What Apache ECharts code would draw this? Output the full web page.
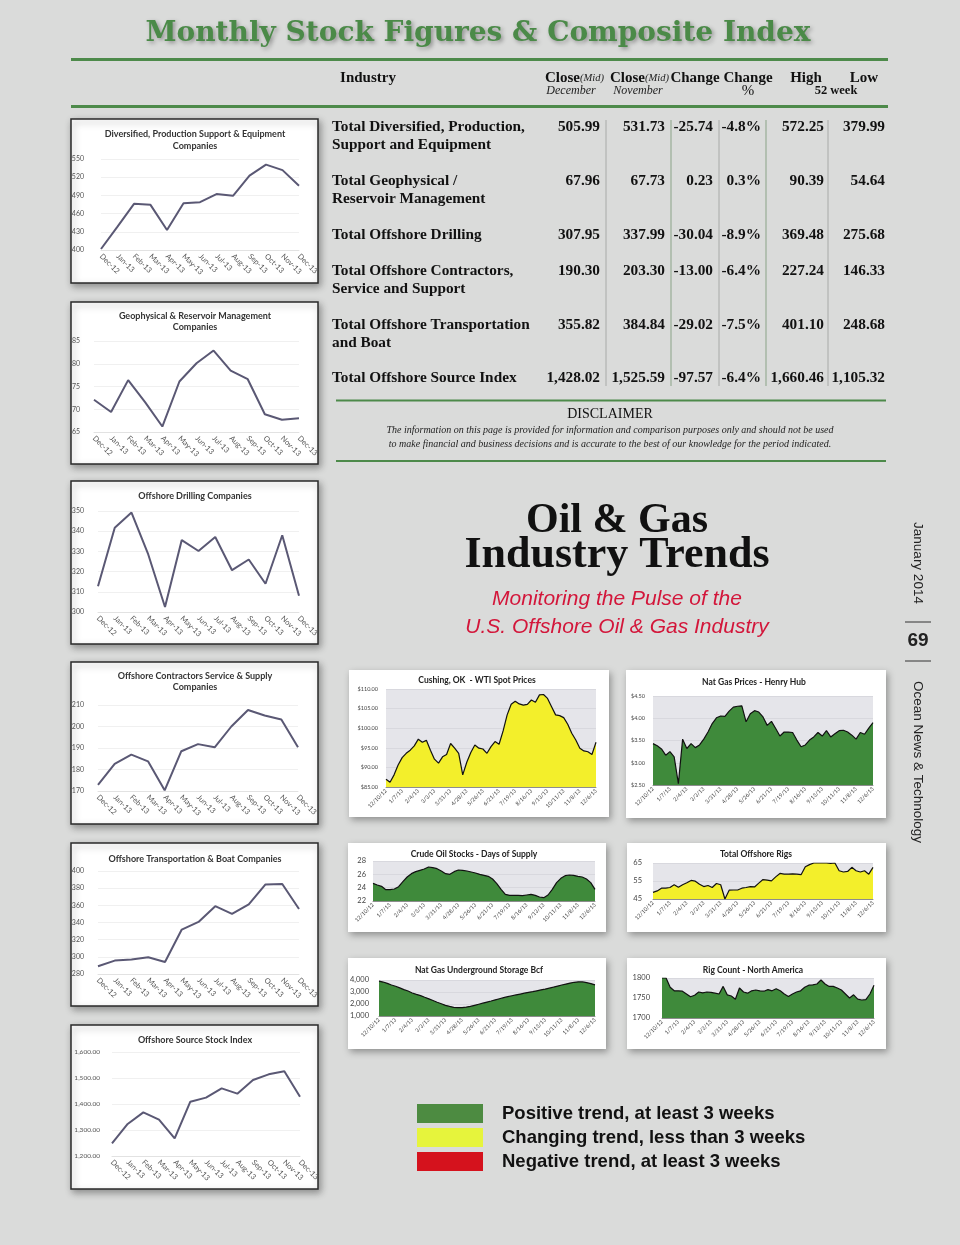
<!DOCTYPE html>
<html><head><meta charset="utf-8">
<script src="https://cdn.jsdelivr.net/npm/echarts/dist/echarts.min.js"></script>
<style>html,body{margin:0;padding:0;background:#dadbda;}#c{width:960px;height:1245px;}</style>
</head><body><div id="c"></div>
<script>
// ---------- DATA ----------
const months = ['Dec-12','Jan-13','Feb-13','Mar-13','Apr-13','May-13','Jun-13','Jul-13','Aug-13','Sep-13','Oct-13','Nov-13','Dec-13'];
const diversified = [401.7,438.6,476.1,474.4,433.0,477.2,478.9,492.2,489.4,522.5,540.7,531.7,506.0];
const geophysical = [72.1,69.4,76.4,71.5,66.2,76.1,80.1,82.9,78.5,76.6,68.9,67.7,68.0];
const drilling = [312.7,341.7,349.2,328.5,302.5,335.6,330.2,337.1,320.7,326.0,314.0,338.0,308.0];
const contractors = [172.8,182.6,186.9,183.8,170.3,188.5,191.8,190.3,200.0,207.7,205.1,203.3,190.3];
const transport = [289.0,295.6,296.8,299.5,294.0,331.8,340.7,359.0,350.1,361.0,384.4,384.8,355.8];
const sourceIndex = [1248.7,1323.1,1367.9,1339.7,1267.9,1408.9,1424.4,1460.3,1439.7,1492.3,1514.1,1525.6,1428.0];

const weekTicks = ['12/10/12','1/7/13','2/4/13','3/3/13','3/31/13','4/28/13','5/26/13','6/21/13','7/19/13','8/16/13','9/13/13','10/11/13','11/8/13','12/6/13'];
const wti = [87.0,86.2,88.1,90.6,92.5,93.6,94.4,95.5,97.2,96.4,96.9,94.4,92.1,91.1,92.7,93.3,96.1,94.9,93.6,88.1,91.3,93.8,95.7,94.9,94.7,93.6,95.3,96.6,95.9,99.3,103.4,106.1,106.9,106.2,105.9,106.1,107.2,106.6,108.5,108.6,107.6,105.5,103.4,103.2,102.7,101.0,98.7,97.0,94.9,94.2,94.0,93.3,96.4];
const henryHub = [3.43,3.38,3.31,3.17,3.25,3.13,2.53,3.53,3.32,3.43,3.34,3.40,3.53,3.69,3.88,4.01,4.05,4.04,4.16,4.25,4.27,4.28,3.92,4.10,4.17,4.14,4.03,3.84,3.93,3.77,3.60,3.69,3.69,3.68,3.51,3.36,3.40,3.51,3.58,3.68,3.60,3.72,3.58,3.65,3.72,3.73,3.69,3.62,3.53,3.68,3.64,3.78,3.90];
const crudeDays = [24.65,24.4,24.2,23.7,23.7,23.8,24.15,24.9,25.6,26.1,26.4,26.6,26.8,27.1,27.0,26.85,26.5,26.1,26.0,26.4,26.65,26.6,26.5,26.35,26.2,26.0,25.85,25.7,25.3,24.6,23.75,23.0,22.85,22.85,22.85,22.8,22.9,23.0,22.85,22.6,22.5,22.9,23.75,24.75,25.4,25.8,25.9,25.85,25.7,25.6,25.3,24.75,23.75];
const offshoreRigs = [48.7,49.5,51.0,51.0,51.4,52.9,51.5,52.9,54.0,55.3,54.9,53.2,51.9,52.5,51.4,53.6,52.9,45.0,49.9,50.0,50.0,51.0,51.4,51.9,51.7,53.8,55.8,55.5,55.1,57.3,59.2,58.8,58.8,59.0,58.8,58.5,62.9,64.1,65.0,65.0,65.0,65.0,64.8,65.0,60.7,60.0,60.3,62.6,60.7,60.0,60.7,58.8,62.6];
const gasStorage = [3900,3830,3720,3580,3480,3340,3200,3080,2920,2800,2700,2560,2430,2290,2150,2020,1890,1800,1720,1690,1700,1740,1800,1890,1980,2070,2160,2250,2350,2440,2530,2610,2690,2760,2830,2900,2970,3030,3100,3170,3240,3320,3400,3490,3580,3660,3740,3810,3850,3840,3780,3700,3600];
const rigCountNA = [1800,1800,1777,1768,1768,1767,1760,1753,1757,1765,1763,1765,1764,1762,1760,1779,1758,1755,1747,1775,1765,1762,1768,1770,1768,1767,1771,1768,1773,1768,1760,1754,1760,1765,1768,1777,1782,1783,1785,1795,1785,1779,1779,1775,1770,1760,1750,1758,1747,1745,1746,1760,1782];

const tableNames = [['Total Diversified, Production,','Support and Equipment'],['Total Geophysical /','Reservoir Management'],['Total Offshore Drilling'],['Total Offshore Contractors,','Service and Support'],['Total Offshore Transportation','and Boat'],['Total Offshore Source Index']];
const closeDec = [505.99,67.96,307.95,190.30,355.82,1428.02];
const closeNov = [531.73,67.73,337.99,203.30,384.84,1525.59];
const changeVal = [-25.74,0.23,-30.04,-13.00,-29.02,-97.57];
const changePct = [-4.8,0.3,-8.9,-6.4,-7.5,-6.4];
const high52 = [572.25,90.39,369.48,227.24,401.10,1660.46];
const low52 = [379.99,54.64,275.68,146.33,248.68,1105.32];

const legendLabels = ['Positive trend, at least 3 weeks','Changing trend, less than 3 weeks','Negative trend, at least 3 weeks'];
const legendColors = ['#4d8b41','#e6f43c','#d5121d'];

// ---------- HELPERS ----------
const SERIF='"Liberation Serif","Times New Roman",serif';
const SANS='"Liberation Sans",Arial,sans-serif';
const CAL='Lato,"Open Sans",sans-serif';
const fmt2 = v => v.toLocaleString('en-US',{minimumFractionDigits:2,maximumFractionDigits:2});
const G = [];
function txt(x,y,text,font,fill,align,extra){
  G.push({type:'text',z:100,silent:true,style:Object.assign({x:x,y:y,text:text,font:font,fill:fill||'#111',textAlign:align||'left',textVerticalAlign:'middle'},extra||{})});
}
function line(x1,y1,x2,y2,stroke,w,z){
  G.push({type:'line',z:z||50,silent:true,shape:{x1:x1,y1:y1,x2:x2,y2:y2},style:{stroke:stroke,lineWidth:w}});
}
function panel(x,y,w,h,border){
  G.push({type:'rect',z:-10,silent:true,shape:{x:x,y:y,width:w,height:h},style:{fill:'#fff',stroke:border?'#2a2a2a':null,lineWidth:border?1.5:0,shadowBlur:7,shadowColor:'rgba(0,0,0,0.35)',shadowOffsetX:2,shadowOffsetY:3}});
}

const option = {backgroundColor:'#dadbda',animation:false,grid:[],xAxis:[],yAxis:[],series:[],graphic:{elements:G}};

// ---------- HEADER ----------
txt(478,34,'Monthly Stock Figures & Composite Index','bold 28px "DejaVu Serif",serif','#4b8a48','center',{textShadowColor:'rgba(0,0,0,0.35)',textShadowBlur:4,textShadowOffsetX:2,textShadowOffsetY:2});
line(71,59.5,888,59.5,'#4d8a4a',3);
line(71,106.5,888,106.5,'#4d8a4a',3);
const HB='bold 15px '+SERIF, HI='italic 12px '+SERIF;
txt(368,78,'Industry',HB,'#111','center');
txt(580,78,'Close',HB,'#111','right'); txt(580,78,'(Mid)','italic 10.5px '+SERIF,'#222','left');
txt(645,78,'Close',HB,'#111','right'); txt(645,78,'(Mid)','italic 10.5px '+SERIF,'#222','left');
txt(695,78,'Change',HB,'#111','center');
txt(748,78,'Change',HB,'#111','center');
txt(806,78,'High',HB,'#111','center');
txt(864,78,'Low',HB,'#111','center');
txt(571,91,'December',HI,'#222','center');
txt(638,91,'November',HI,'#222','center');
txt(748,91,'%',HB.replace('bold ',''),'#111','center');
txt(836,91,'52 week','bold 12.5px '+SERIF,'#111','center');

// ---------- TABLE ----------
const rowY = [127,181,235,271,325,378];
const colRight = [600,665,713,761,824,885];
const TB = 'bold 15.3px '+SERIF;
tableNames.forEach((nm,i)=>{
  nm.forEach((s,k)=>txt(332,rowY[i]+k*18,s,TB,'#111','left'));
  const vals=[fmt2(closeDec[i]),fmt2(closeNov[i]),changeVal[i].toFixed(2),changePct[i].toFixed(1)+'%',fmt2(high52[i]),fmt2(low52[i])];
  vals.forEach((v,c)=>txt(colRight[c],rowY[i],v,TB,'#111','right'));
});
[606,671,719,766,828].forEach((x,i)=>line(x,120,x,386,(i%2?'#8aa387':'#a8aaa8'),1,20));
line(336,400.5,886,400.5,'#4d8a4a',2);
line(336,461,886,461,'#4d8a4a',2);
txt(610,414,'DISCLAIMER','14px '+SERIF,'#111','center');
txt(610,430,'The information on this page is provided for information and comparison purposes only and should not be used','italic 10px '+SERIF,'#222','center');
txt(610,444,'to make financial and business decisions and is accurate to the best of our knowledge for the period indicated.','italic 10px '+SERIF,'#222','center');

// ---------- BIG TITLE ----------
txt(617,521,'Oil & Gas','bold 42px '+SERIF,'#111','center');
txt(617,556,'Industry Trends','bold 44px '+SERIF,'#111','center');
txt(617,599,'Monitoring the Pulse of the','italic 21px '+SANS,'#d3163a','center');
txt(617,627,'U.S. Offshore Oil & Gas Industry','italic 21px '+SANS,'#d3163a','center');

// side text
G.push({type:'text',z:100,x:918,y:563,rotation:-Math.PI/2,style:{x:0,y:0,text:'January 2014',font:'13.5px '+SANS,fill:'#222',textAlign:'center',textVerticalAlign:'middle'}});
G.push({type:'text',z:100,x:918,y:762,rotation:-Math.PI/2,style:{x:0,y:0,text:'Ocean News & Technology',font:'13.5px '+SANS,fill:'#222',textAlign:'center',textVerticalAlign:'middle'}});
txt(918,641,'69','bold 19px '+SANS,'#222','center');
line(905,622,931,622,'#333',1);
line(905,661,931,661,'#333',1);

// ---------- LEFT LINE CHARTS ----------
const leftCharts = [
 {t:['Diversified, Production Support & Equipment','Companies'],ty:[134,146],d:diversified,min:400,max:550,iv:30,box:[71,119,247,164],g:[101,159,198,91],m:17,fs:7},
 {t:['Geophysical & Reservoir Management','Companies'],ty:[316,327],d:geophysical,min:65,max:85,iv:5,box:[71,302,247,162],g:[94,341,205,91],m:14,fs:7},
 {t:['Offshore Drilling Companies'],ty:[496],d:drilling,min:300,max:350,iv:10,box:[71,481,247,163],g:[98,511,201,101],m:14,fs:7},
 {t:['Offshore Contractors Service & Supply','Companies'],ty:[676,687],d:contractors,min:170,max:210,iv:10,box:[71,662,247,162],g:[98,705,200,86],m:14,fs:7},
 {t:['Offshore Transportation & Boat Companies'],ty:[859],d:transport,min:280,max:400,iv:20,box:[71,843,247,163],g:[98,871,201,103],m:14,fs:7},
 {t:['Offshore Source Stock Index'],ty:[1040],d:sourceIndex,min:1200,max:1600,iv:100,box:[71,1025,247,164],g:[112,1052,188,104],m:12,fs:6.5,money:true}
];
leftCharts.forEach((c)=>{
  panel(c.box[0],c.box[1],c.box[2],c.box[3],true);
  c.t.forEach((s,k)=>txt(195,c.ty[k],s,'bold 9px '+CAL,'#333','center'));
  const gi=option.grid.length;
  option.grid.push({left:c.g[0],top:c.g[1],width:c.g[2],height:c.g[3],containLabel:false});
  option.xAxis.push({type:'category',gridIndex:gi,data:months,boundaryGap:false,axisLine:{show:true,lineStyle:{color:'#e2e2e2'}},axisTick:{show:false},
    axisLabel:{interval:0,rotate:-45,fontSize:7.5,color:'#555',margin:5,fontFamily:CAL}});
  option.yAxis.push({type:'value',gridIndex:gi,min:c.min,max:c.max,interval:c.iv,axisLine:{show:false},axisTick:{show:false},
    splitLine:{lineStyle:{color:'#f0f0f0',width:1}},
    axisLabel:{fontSize:c.fs,color:'#555',margin:c.m,fontFamily:CAL,formatter:c.money?(v=>fmt2(v)):(v=>String(v))}});
  option.series.push({type:'line',xAxisIndex:gi,yAxisIndex:gi,data:c.d,symbol:'none',lineStyle:{color:'#5a5874',width:2}});
});

// ---------- RIGHT AREA CHARTS ----------
const rightCharts = [
 {t:'Cushing, OK  - WTI Spot Prices',tx:477,ty:680,d:wti,min:85,max:110,iv:5,f:v=>'$'+v.toFixed(2),col:'#f3ef2b',box:[349,670,260,147],g:[386,689,210,98],ls:5.5,m:8},
 {t:'Nat Gas Prices - Henry Hub',tx:754,ty:682,d:henryHub,min:2.5,max:4.5,iv:0.5,f:v=>'$'+v.toFixed(2),col:'#3f8a3b',box:[626,670,260,148],g:[653,696,220,89],ls:5.5,m:8},
 {t:'Crude Oil Stocks - Days of Supply',tx:474,ty:854,d:crudeDays,min:22,max:28,iv:2,f:v=>String(v),col:'#3f8a3b',box:[348,843,258,89],g:[373,861,222,40],ls:7.5,m:7},
 {t:'Total Offshore Rigs',tx:756,ty:854,d:offshoreRigs,min:45,max:65,iv:10,f:v=>String(v),col:'#f3ef2b',box:[627,843,259,89],g:[653,863,220,36],ls:7.5,m:11},
 {t:'Nat Gas Underground Storage Bcf',tx:479,ty:970,d:gasStorage,min:1000,max:4000,iv:1000,f:v=>v.toLocaleString('en-US'),col:'#3f8a3b',box:[348,958,258,91],g:[379,980,216,36],ls:7.5,m:10},
 {t:'Rig Count - North America',tx:753,ty:970,d:rigCountNA,min:1700,max:1800,iv:50,f:v=>String(v),col:'#3f8a3b',box:[627,958,259,91],g:[662,978,212,40],ls:7.5,m:12}
];
rightCharts.forEach((c)=>{
  panel(c.box[0],c.box[1],c.box[2],c.box[3],false);
  txt(c.tx,c.ty,c.t,'bold 8.5px '+CAL,'#222','center');
  const gi=option.grid.length;
  const cats=c.d.map((v,i)=>'w'+i);
  option.grid.push({left:c.g[0],top:c.g[1],width:c.g[2],height:c.g[3],containLabel:false,show:true,backgroundColor:'#e5e5ea',borderWidth:0});
  option.xAxis.push({type:'category',gridIndex:gi,data:cats,boundaryGap:false,axisLine:{show:true,lineStyle:{color:'#777',width:0.8}},axisTick:{show:false},
    axisLabel:{interval:3,rotate:45,fontSize:5.5,color:'#444',margin:3,fontFamily:CAL,formatter:(v,idx)=>weekTicks[idx/4]||''}});
  option.yAxis.push({type:'value',gridIndex:gi,min:c.min,max:c.max,interval:c.iv,axisLine:{show:false},axisTick:{show:false},
    splitLine:{lineStyle:{color:'#d2d2d8',width:0.7}},
    axisLabel:{fontSize:c.ls,color:'#444',margin:c.m,fontFamily:CAL,formatter:c.f}});
  option.series.push({type:'line',xAxisIndex:gi,yAxisIndex:gi,data:c.d,symbol:'none',lineStyle:{color:'#111',width:1.2},areaStyle:{color:c.col,opacity:1}});
});

// ---------- LEGEND ----------
legendLabels.forEach((s,i)=>{
  const y=1104+i*24;
  G.push({type:'rect',z:10,silent:true,shape:{x:417,y:y,width:66,height:19},style:{fill:legendColors[i]}});
  txt(502,y+9.5,s,'bold 18.5px '+SANS,'#111','left');
});

const chart = echarts.init(document.getElementById('c'),null,{renderer:'canvas',width:960,height:1245});
chart.setOption(option);
</script>
</body></html>
